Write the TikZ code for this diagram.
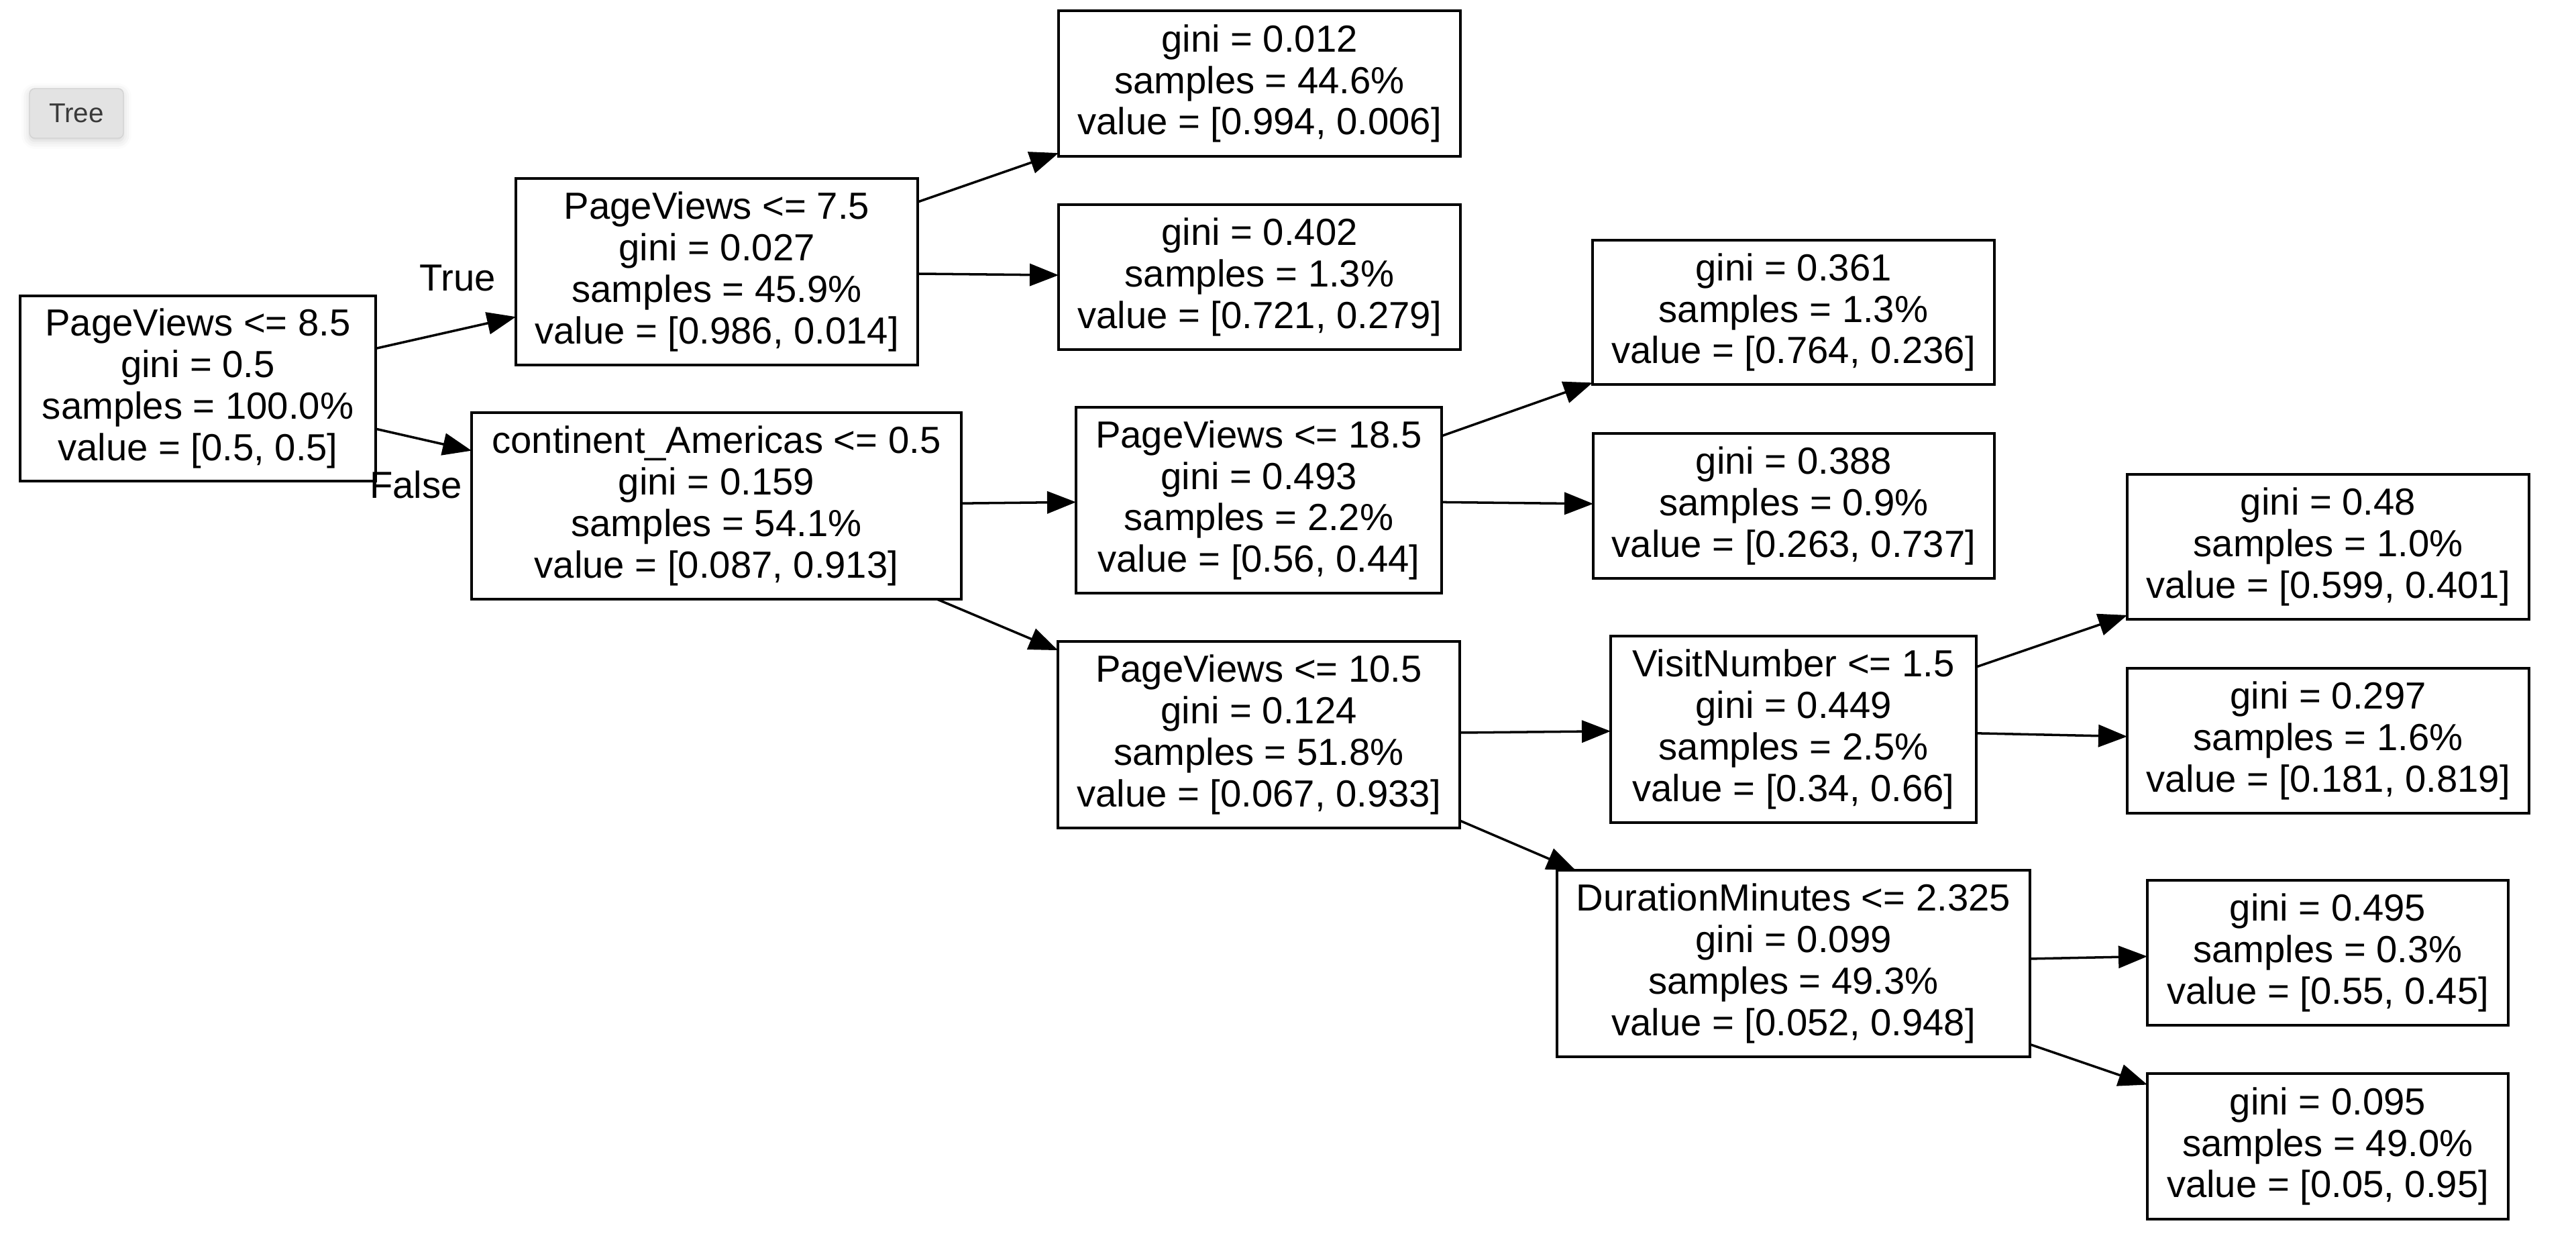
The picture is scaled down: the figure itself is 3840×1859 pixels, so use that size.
\documentclass[tikz,border=0pt]{standalone}
\usepackage{fontspec}
\setmainfont{Liberation Sans}
\usetikzlibrary{arrows.meta,shadows.blur}
\definecolor{btnfill}{HTML}{E3E3E3}
\definecolor{btnline}{HTML}{D2D2D2}
\definecolor{btntext}{HTML}{3A3A3A}
\begin{document}
\begin{tikzpicture}[x=0.1mm,y=-0.1mm,
  box/.style={draw=black, line width=1pt, inner sep=0pt, outer sep=0pt, align=center,
    font=\fontsize{16}{17.6}\selectfont},
  edge/.style={line width=1pt, -{Triangle[length=4.3mm,width=3.3mm]}},
  lbl/.style={font=\fontsize{16}{17.6}\selectfont, inner sep=0pt},
  btn/.style={draw=btnline, fill=btnfill, rounded corners=0.8mm, line width=0.4pt,
    blur shadow={shadow xshift=0mm, shadow yshift=-0.4mm, shadow blur radius=1.2mm, shadow opacity=18},
    text=btntext, font=\fontsize{11.5}{13}\selectfont, inner sep=0pt}]
\useasboundingbox (0,0) rectangle (3840,1859);
% button
\node[btn, minimum width=14mm, minimum height=7.4mm] (tree) at (114,169) {Tree};
% nodes
\node[box, minimum width=53mm, minimum height=27.6mm] (root) at (295,579)
  {PageViews <= 8.5\\gini = 0.5\\samples = 100.0\%\\value = [0.5, 0.5]};
\node[box, minimum width=59.9mm, minimum height=27.8mm] (n1) at (1068.5,405)
  {PageViews <= 7.5\\gini = 0.027\\samples = 45.9\%\\value = [0.986, 0.014]};
\node[box, minimum width=73mm, minimum height=27.8mm] (n2) at (1068,754)
  {continent\_Americas <= 0.5\\gini = 0.159\\samples = 54.1\%\\value = [0.087, 0.913]};
\node[box, minimum width=59.9mm, minimum height=21.7mm] (l1) at (1877.5,124.5)
  {gini = 0.012\\samples = 44.6\%\\value = [0.994, 0.006]};
\node[box, minimum width=59.9mm, minimum height=21.6mm] (l2) at (1877.5,413)
  {gini = 0.402\\samples = 1.3\%\\value = [0.721, 0.279]};
\node[box, minimum width=54.5mm, minimum height=27.7mm] (n3) at (1876.5,745.5)
  {PageViews <= 18.5\\gini = 0.493\\samples = 2.2\%\\value = [0.56, 0.44]};
\node[box, minimum width=59.9mm, minimum height=27.8mm] (n4) at (1876.5,1095)
  {PageViews <= 10.5\\gini = 0.124\\samples = 51.8\%\\value = [0.067, 0.933]};
\node[box, minimum width=59.9mm, minimum height=21.5mm] (l3) at (2673.5,465.5)
  {gini = 0.361\\samples = 1.3\%\\value = [0.764, 0.236]};
\node[box, minimum width=59.8mm, minimum height=21.6mm] (l4) at (2674,754)
  {gini = 0.388\\samples = 0.9\%\\value = [0.263, 0.737]};
\node[box, minimum width=54.5mm, minimum height=27.8mm] (n5) at (2673.5,1087)
  {VisitNumber <= 1.5\\gini = 0.449\\samples = 2.5\%\\value = [0.34, 0.66]};
\node[box, minimum width=70.5mm, minimum height=27.8mm] (n6) at (2673.5,1436)
  {DurationMinutes <= 2.325\\gini = 0.099\\samples = 49.3\%\\value = [0.052, 0.948]};
\node[box, minimum width=59.9mm, minimum height=21.6mm] (l5) at (3470.5,815)
  {gini = 0.48\\samples = 1.0\%\\value = [0.599, 0.401]};
\node[box, minimum width=59.9mm, minimum height=21.6mm] (l6) at (3470.5,1104)
  {gini = 0.297\\samples = 1.6\%\\value = [0.181, 0.819]};
\node[box, minimum width=53.8mm, minimum height=21.6mm] (l7) at (3470,1420)
  {gini = 0.495\\samples = 0.3\%\\value = [0.55, 0.45]};
\node[box, minimum width=53.8mm, minimum height=21.7mm] (l8) at (3470,1708.5)
  {gini = 0.095\\samples = 49.0\%\\value = [0.05, 0.95]};
% labels
\node[lbl] (ltrue) at (682,414) {True};
\node[lbl] (lfalse) at (620,722) {False};
% edges
\draw[edge] (root) -- (n1);
\draw[edge] (root) -- (n2);
\draw[edge] (n1) -- (l1);
\draw[edge] (n1) -- (l2);
\draw[edge] (n2) -- (n3);
\draw[edge] (n2) -- (n4);
\draw[edge] (n3) -- (l3);
\draw[edge] (n3) -- (l4);
\draw[edge] (n4) -- (n5);
\draw[edge] (n4) -- (n6);
\draw[edge] (n5) -- (l5);
\draw[edge] (n5) -- (l6);
\draw[edge] (n6) -- (l7);
\draw[edge] (n6) -- (l8);
\end{tikzpicture}
\end{document}
